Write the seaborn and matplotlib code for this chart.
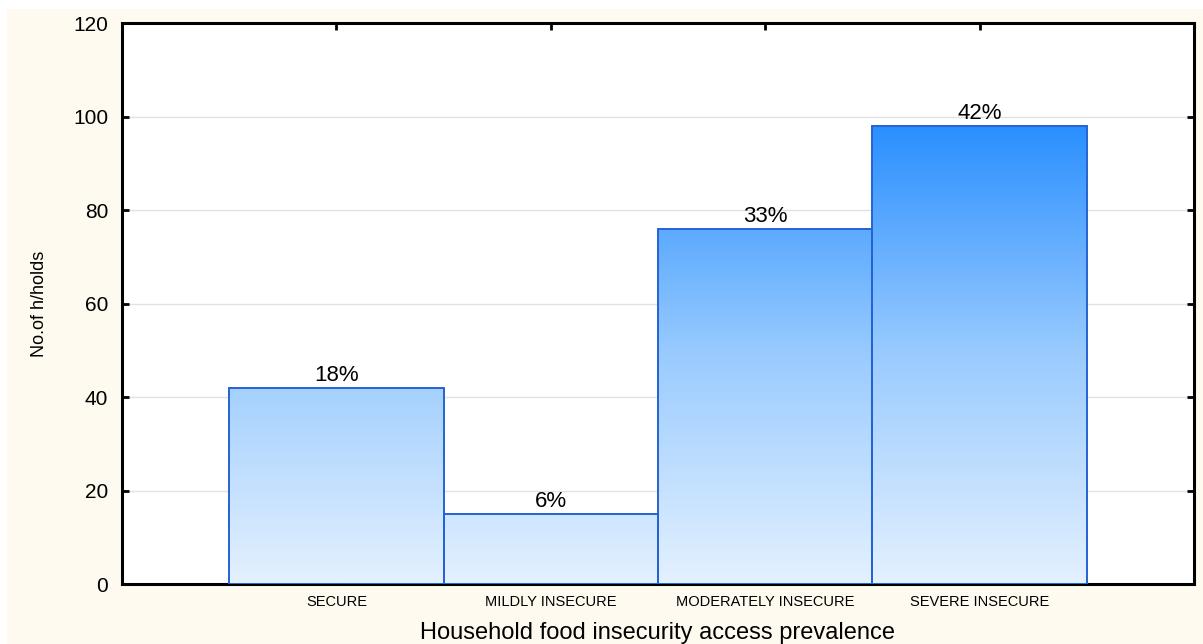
import numpy as np
import matplotlib
matplotlib.use("Agg")
import matplotlib.pyplot as plt
from matplotlib.colors import LinearSegmentedColormap, Normalize
from matplotlib.patches import Rectangle
import seaborn as sns

# Household food insecurity access categories and household counts
categories = ["SECURE", "MILDLY INSECURE", "MODERATELY INSECURE", "SEVERE INSECURE"]
households = [42, 15, 76, 98]
y_ticks = [0, 20, 40, 60, 80, 100, 120]

total = sum(households)
pct_labels = [f"{round(v / total * 100)}%" for v in households]

sns.set_theme(style="white")
plt.rcParams["font.family"] = ["Liberation Sans", "DejaVu Sans"]
plt.rcParams["text.color"] = "black"
plt.rcParams["xtick.color"] = "black"
plt.rcParams["ytick.color"] = "black"
plt.rcParams["axes.labelcolor"] = "black"

fig = plt.figure(figsize=(12.03, 6.44), dpi=100, facecolor="white")
# cream panel behind the plot
fig.patches.append(Rectangle((7 / 1203, 0), 1 - 7 / 1203, 1 - 9 / 644,
                             transform=fig.transFigure, facecolor="#FFFAEF",
                             edgecolor="none", zorder=-10))

ax = fig.add_axes([122 / 1203, 60 / 644, 1072 / 1203, 561 / 644])
ax.set_facecolor("white")

sns.barplot(x=categories, y=households, width=1.0, ax=ax,
            color="#9CCBFE", edgecolor="#2463D4", linewidth=1.4,
            saturation=1, zorder=3)

# vertical blue gradient inside every bar, shade tied to bar height
cmap = LinearSegmentedColormap.from_list("hfias", ["#E4F1FF", "#9ACBFE", "#2A8FFF"])
norm = Normalize(vmin=0, vmax=max(households))
grad = np.linspace(0, 1, 256).reshape(-1, 1)
for patch in ax.patches:
    x0, y0 = patch.get_x(), patch.get_y()
    w, h = patch.get_width(), patch.get_height()
    vals = grad * h
    img = ax.imshow(vals, cmap=cmap, norm=norm, origin="lower", aspect="auto",
                    extent=(x0, x0 + w, y0, y0 + h), zorder=3.5,
                    interpolation="bilinear")
    img.set_clip_path(patch)
    patch.set_facecolor("none")
    patch.set_zorder(4)

ax.bar_label(ax.containers[0], labels=pct_labels, padding=1, fontsize=16,
             color="black", zorder=5)

ax.set_xlim(-1, 4)
ax.set_ylim(0, 120)
ax.set_yticks(y_ticks)
ax.set_yticklabels([str(t) for t in y_ticks], fontsize=15)
ax.set_xticks(range(len(categories)))
ax.set_xticklabels(categories, fontsize=10.5)

ax.yaxis.grid(True, color="#E2E2E2", linewidth=1.0, zorder=0)
ax.xaxis.grid(False)
ax.set_axisbelow(True)

for s in ax.spines.values():
    s.set_visible(True)
    s.set_color("black")
    s.set_linewidth(2.2)

ax.tick_params(axis="both", direction="in", length=5, width=2, color="black",
               top=True, right=True, labeltop=False, labelright=False,
               bottom=True, left=True)
ax.tick_params(axis="y", pad=10)
ax.tick_params(axis="x", pad=8)

ax.set_xlabel("Household food insecurity access prevalence", fontsize=17,
              labelpad=9)
ax.set_ylabel("No.of h/holds", fontsize=13, labelpad=18)

fig.savefig("out.png", dpi=100, facecolor=fig.get_facecolor())
